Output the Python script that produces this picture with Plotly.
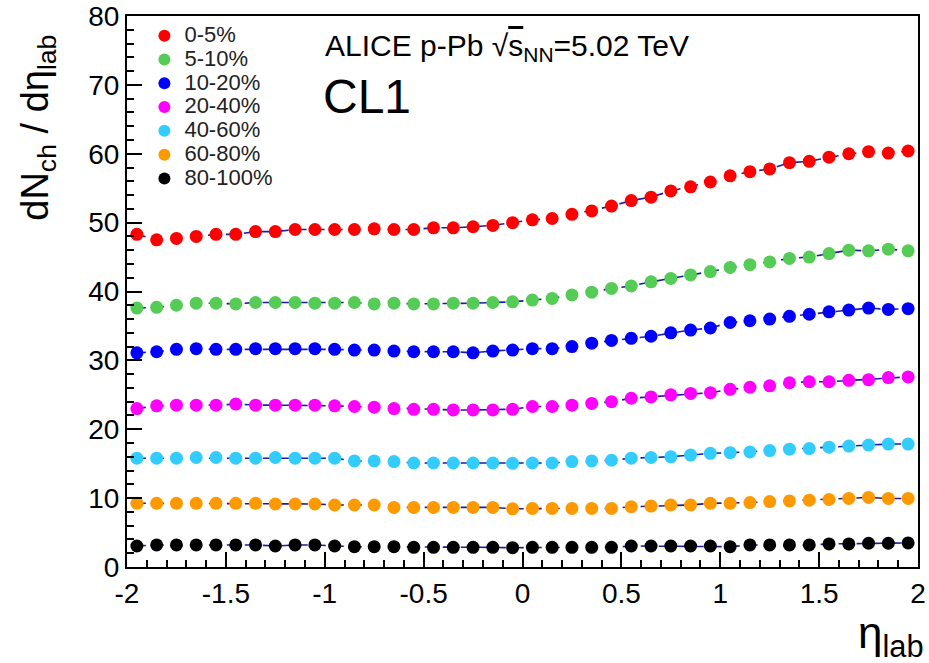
import plotly.graph_objects as go

# pseudorapidity bin centres
eta = [-1.95, -1.85, -1.75, -1.65, -1.55, -1.45, -1.35, -1.25, -1.15, -1.05,
       -0.95, -0.85, -0.75, -0.65, -0.55, -0.45, -0.35, -0.25, -0.15, -0.05,
       0.05, 0.15, 0.25, 0.35, 0.45, 0.55, 0.65, 0.75, 0.85, 0.95,
       1.05, 1.15, 1.25, 1.35, 1.45, 1.55, 1.65, 1.75, 1.85, 1.95]

# dNch/deta_lab per centrality class (CL1 estimator)
c0_5 = [48.3, 47.5, 47.7, 48.0, 48.3, 48.3, 48.7, 48.7, 49.0, 49.0,
        49.0, 49.0, 49.1, 49.0, 49.0, 49.25, 49.25, 49.4, 49.6, 50.0,
        50.4, 50.6, 51.2, 51.7, 52.4, 53.2, 53.7, 54.6, 55.2, 55.9,
        56.8, 57.4, 57.8, 58.7, 58.9, 59.5, 60.0, 60.3, 60.1, 60.4]
c5_10 = [37.6, 37.7, 38.0, 38.3, 38.3, 38.2, 38.4, 38.4, 38.4, 38.3,
         38.3, 38.4, 38.2, 38.3, 38.2, 38.2, 38.3, 38.3, 38.4, 38.5,
         38.75, 39.0, 39.5, 39.9, 40.45, 40.8, 41.4, 41.9, 42.4, 42.9,
         43.5, 43.9, 44.3, 44.8, 45.0, 45.5, 46.0, 45.9, 46.15, 45.9]
c10_20 = [31.1, 31.25, 31.6, 31.7, 31.6, 31.6, 31.7, 31.7, 31.7, 31.7,
          31.6, 31.5, 31.5, 31.35, 31.25, 31.25, 31.25, 31.1, 31.35, 31.5,
          31.7, 31.7, 32.0, 32.5, 32.9, 33.2, 33.5, 34.0, 34.4, 34.7,
          35.5, 35.75, 36.0, 36.4, 36.7, 37.05, 37.3, 37.6, 37.4, 37.5]
c20_40 = [23.0, 23.4, 23.5, 23.5, 23.5, 23.65, 23.5, 23.5, 23.5, 23.5,
          23.4, 23.3, 23.2, 23.0, 22.9, 22.9, 22.8, 22.8, 22.8, 22.9,
          23.3, 23.3, 23.5, 23.75, 24.0, 24.5, 24.7, 25.0, 25.2, 25.3,
          25.8, 26.1, 26.3, 26.75, 26.9, 26.9, 27.1, 27.2, 27.5, 27.6]
c40_60 = [15.8, 15.8, 15.8, 15.9, 15.9, 15.8, 15.8, 15.9, 15.8, 15.8,
          15.8, 15.4, 15.4, 15.3, 15.1, 15.1, 15.1, 15.1, 15.1, 15.05,
          15.1, 15.1, 15.3, 15.4, 15.5, 15.8, 15.9, 16.0, 16.25, 16.5,
          16.6, 16.7, 16.9, 17.1, 17.2, 17.4, 17.55, 17.7, 17.85, 17.85]
c60_80 = [9.25, 9.25, 9.25, 9.25, 9.25, 9.25, 9.25, 9.15, 9.15, 9.15,
          9.0, 9.0, 9.0, 8.65, 8.65, 8.65, 8.65, 8.65, 8.65, 8.45,
          8.5, 8.5, 8.5, 8.5, 8.5, 8.75, 8.85, 9.0, 9.0, 9.25,
          9.25, 9.35, 9.5, 9.6, 9.7, 9.8, 9.95, 10.1, 9.95, 9.95]
c80_100 = [3.05, 3.2, 3.2, 3.2, 3.2, 3.2, 3.2, 3.05, 3.2, 3.2,
           3.05, 2.95, 2.95, 2.95, 2.85, 2.85, 2.85, 2.85, 2.85, 2.8,
           2.85, 2.85, 2.85, 2.85, 2.85, 3.05, 3.05, 3.05, 3.05, 3.05,
           2.95, 3.2, 3.2, 3.2, 3.2, 3.35, 3.35, 3.45, 3.45, 3.5]

classes = ["0-5%", "5-10%", "10-20%", "20-40%", "40-60%", "60-80%", "80-100%"]
series = [c0_5, c5_10, c10_20, c20_40, c40_60, c60_80, c80_100]
colors = ["#ff0000", "#55cc55", "#0000ff", "#ff00ff", "#33ccff", "#ff9900", "#000000"]

x_tickvals = [-2, -1.5, -1, -0.5, 0, 0.5, 1, 1.5, 2]
x_ticktext = ["-2", "-1.5", "-1", "-0.5", "0", "0.5", "1", "1.5", "2"]
y_tickvals = [0, 10, 20, 30, 40, 50, 60, 70, 80]
y_ticktext = ["0", "10", "20", "30", "40", "50", "60", "70", "80"]

FONT = "Liberation Sans, Arial, Helvetica, sans-serif"

fig = go.Figure()
# fitted curves drawn underneath the points (not listed in the legend)
for vals in series:
    fig.add_trace(go.Scatter(
        x=eta, y=vals, mode="lines", showlegend=False, hoverinfo="skip",
        line=dict(color="#1c1ca0", width=1.6, dash="dash"),
    ))
# measured points
for name, vals, col in zip(classes, series, colors):
    fig.add_trace(go.Scatter(
        x=eta, y=vals, mode="markers",
        name=f"<span style='font-size:22px'>{name}</span>",
        marker=dict(color=col, size=13, line=dict(width=0)),
    ))

axis_common = dict(
    showline=True, linecolor="black", linewidth=2, mirror=True,
    ticks="inside", tickcolor="black", tickwidth=1.5, ticklen=15,
    showgrid=False, zeroline=False, automargin=False,
    tickfont=dict(family=FONT, size=28, color="black"),
)

fig.update_xaxes(
    range=[-2, 2], tickmode="array", tickvals=x_tickvals, ticktext=x_ticktext,
    minor=dict(dtick=0.1, ticks="inside", ticklen=7, tickcolor="black", tickwidth=1.5, showgrid=False),
    **axis_common,
)
fig.update_yaxes(
    range=[0, 80], tickmode="array", tickvals=y_tickvals, ticktext=y_ticktext,
    minor=dict(dtick=2, ticks="inside", ticklen=7, tickcolor="black", tickwidth=1.5, showgrid=False),
    **axis_common,
)

fig.update_layout(
    width=929, height=663,
    margin=dict(l=127, r=11, t=16, b=96),
    paper_bgcolor="white", plot_bgcolor="white",
    font=dict(family=FONT, color="black"),
    legend=dict(
        x=0.022, y=0.995, xanchor="left", yanchor="top",
        bgcolor="rgba(0,0,0,0)", borderwidth=0,
        font=dict(family=FONT, size=16, color="#222"),
        itemsizing="constant",
    ),
    showlegend=True,
    annotations=[
        dict(text="ALICE p-Pb √<span style='text-decoration:overline'>s</span><sub>NN</sub>=5.02 TeV",
             xref="paper", yref="paper", x=0.248, y=0.942,
             xanchor="left", yanchor="middle", showarrow=False,
             font=dict(family=FONT, size=30, color="black")),
        dict(text="CL1", xref="paper", yref="paper", x=0.245, y=0.853,
             xanchor="left", yanchor="middle", showarrow=False,
             font=dict(family=FONT, size=48, color="black")),
        dict(text="dN<sub>ch</sub> / dη<sub>lab</sub>", xref="paper", yref="paper",
             x=-0.112, y=0.798, xanchor="center", yanchor="middle", textangle=-90,
             showarrow=False, font=dict(family=FONT, size=38, color="black")),
        dict(text="η<sub>lab</sub>", xref="paper", yref="paper",
             x=0.966, y=-0.125, xanchor="center", yanchor="middle",
             showarrow=False, font=dict(family=FONT, size=44, color="black")),
    ],
)

fig.write_html("out.html")
